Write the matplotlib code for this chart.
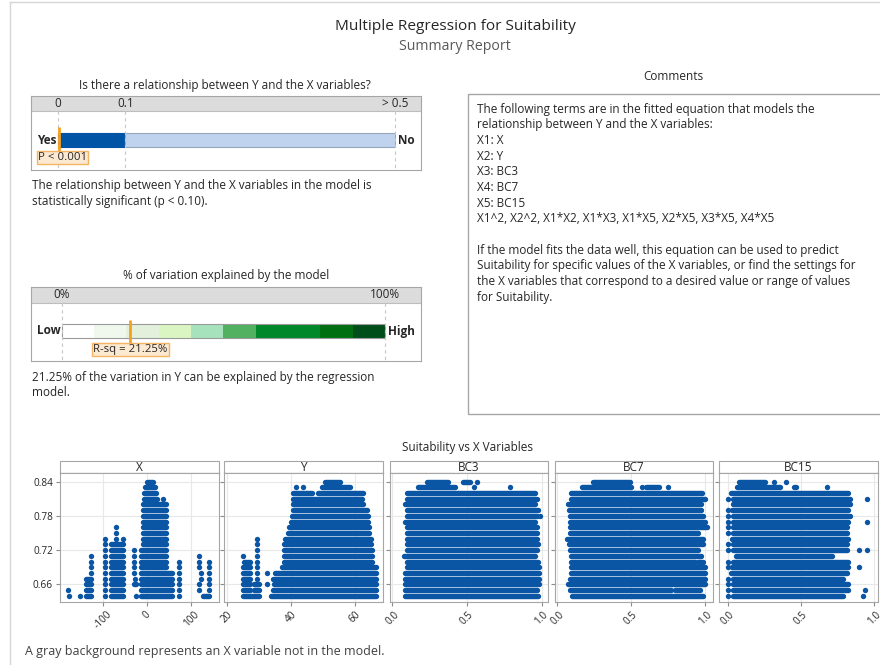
import numpy as np
import matplotlib.pyplot as plt
from matplotlib.patches import Rectangle

W, H = 880, 665
plt.rcParams['font.family'] = ['Open Sans', 'DejaVu Sans']

BLUE = '#0B55A5'
TXT = '#262626'
FRAME = '#A6A6A6'
FS = 8.5

# p-value scale
p_value = 0.001
p_ticks = [0, 0.1, 0.5]
p_tick_labels = ['0', '0.1', '> 0.5']
p_band_lo = [0, 0.1]
p_band_hi = [0.1, 0.5]
p_band_colors = ['#0054A6', '#BFD3EE']

# R-sq scale (percent)
r_sq = 21.25
r_ticks = [0, 100]
r_tick_labels = ['0%', '100%']
r_bounds = [0, 10, 20, 30, 40, 50, 60, 80, 90, 100]
r_colors = ['#FFFFFF', '#F0F8EE', '#E3F0DC', '#DAF5C2', '#A6E3BD',
            '#52B061', '#00882B', '#006F12', '#004F1A']

comment_lines = [
    "The following terms are in the fitted equation that models the",
    "relationship between Y and the X variables:",
    "X1: X",
    "X2: Y",
    "X3: BC3",
    "X4: BC7",
    "X5: BC15",
    "X1^2, X2^2, X1*X2, X1*X3, X1*X5, X2*X5, X3*X5, X4*X5",
    "",
    "If the model fits the data well, this equation can be used to predict",
    "Suitability for specific values of the X variables, or find the settings for",
    "the X variables that correspond to a desired value or range of values",
    "for Suitability.",
]

# Suitability levels (rows of the scatter panels, top to bottom)
levels = [0.84, 0.83, 0.82, 0.81, 0.80, 0.79, 0.78, 0.77, 0.76, 0.75, 0.74,
          0.73, 0.72, 0.71, 0.70, 0.69, 0.68, 0.67, 0.66, 0.65, 0.64]

# per level: runs of overlapping points (start, end) and single points
x_runs = [
    [(0, 13)], [(-4, 19)], [(-6, 21)], [(-6, 22)], [(-10, 43)], [(-10, 43)],
    [(-10, 43)], [(-10, 43)], [(-10, 43)], [(-10, 43)], [(-10, 43)],
    [(-82, -55), (-10, 43)], [(-82, -55), (-14, 43)], [(-82, -55), (-14, 43)],
    [(-82, -55), (-14, 43)], [(-82, -55), (-14, 43)], [(-82, -55), (-14, 57)],
    [(-139, -127), (-82, -55), (-14, 57)],
    [(-139, -127), (-82, -55), (-30, -25), (-14, 57)],
    [(-139, -127), (-82, -55), (-14, 57)],
    [(-139, -127), (-82, -55), (-14, 57), (127, 140)],
]
x_dots = [
    [], [], [], [37], [], [], [], [], [-71], [-71], [-96, -71, -55],
    [-96], [-96, -30], [-127, -96, -30, 119],
    [-127, -96, -30, 72, 119, 140], [-127, -96, -30, 72, 119, 140],
    [-127, -96, -30, 72, 122, 140], [-96, -28, 72, 122, 140],
    [-96, 72, 119, 140], [-181, -96, 72, 119, 140],
    [-179, -154, -96, -25, 72],
]

y_runs = [
    [(50.6, 55.3)], [(49.6, 58.4)], [(40.7, 46.5), (48.5, 62.6)],
    [(40.7, 62.1)], [(40.5, 62.4)], [(40.5, 63.6)], [(40.2, 64.0)],
    [(40.0, 64.2)], [(39.5, 64.5)], [(39.2, 64.5)], [(38.1, 64.9)],
    [(37.8, 64.9)], [(37.8, 65.2)], [(37.8, 65.2)],
    [(25.3, 27.2), (37.8, 65.2)], [(25.1, 27.2), (37.1, 66.6)],
    [(24.9, 27.2), (35.0, 66.6)], [(24.9, 27.2), (34.5, 66.6)],
    [(24.9, 27.2), (28.3, 30.1), (34.7, 66.6)],
    [(25.1, 27.2), (28.3, 30.1), (34.5, 66.6)],
    [(24.9, 30.1), (33.7, 66.6)],
]
y_dots = [
    [], [41.6, 43.9], [], [], [], [], [], [], [], [], [29.3],
    [29.5], [29.5], [25.1, 29.5], [29.5], [29.5], [29.5, 32.6], [29.5],
    [32.6], [], [],
]

bc3_runs = [
    [(0.23, 0.375), (0.475, 0.52)], [(0.17, 0.42)], [(0.096, 0.955)],
    [(0.096, 0.966)], [(0.085, 0.955)], [(0.096, 0.966)], [(0.096, 0.966)],
    [(0.085, 0.955)], [(0.096, 0.966)], [(0.096, 0.966)], [(0.096, 0.966)],
    [(0.096, 0.977)], [(0.096, 0.966)], [(0.078, 0.955)], [(0.1, 0.977)],
    [(0.1, 0.984)], [(0.085, 0.984)], [(0.085, 0.984)], [(0.085, 0.984)],
    [(0.085, 0.966)], [(0.085, 0.977)],
]
bc3_dots = [
    [0.565], [0.55, 0.79], [], [], [], [0.977], [0.99], [], [], [], [],
    [], [], [], [], [], [], [], [], [], [],
]

bc7_runs = [
    [(0.244, 0.49)], [(0.17, 0.50), (0.6, 0.69)], [(0.09, 0.98)],
    [(0.095, 1.0)], [(0.075, 0.975)], [(0.08, 0.975)], [(0.085, 0.985)],
    [(0.085, 1.0)], [(0.085, 1.01)], [(0.085, 0.955)], [(0.068, 0.985)],
    [(0.08, 0.985)], [(0.085, 0.955)], [(0.09, 0.975)],
    [(0.095, 0.93), (0.95, 0.985)], [(0.09, 1.0)], [(0.09, 1.0)],
    [(0.085, 1.0)], [(0.075, 1.0)], [(0.085, 0.77), (0.80, 0.965)],
    [(0.1, 0.985)],
]
bc7_dots = [
    [], [0.57, 0.75], [], [], [], [], [], [], [], [], [],
    [], [], [], [], [], [], [], [], [], [],
]

bc15_runs = [
    [(0.08, 0.255)], [(0.066, 0.357), (0.45, 0.47)], [(0.023, 0.825)],
    [(0.04, 0.835)], [(0.04, 0.835)], [(0.027, 0.825)], [(0.04, 0.835)],
    [(0.04, 0.825)], [(0.04, 0.815)], [(0.04, 0.815)], [(0.027, 0.825)],
    [(0.04, 0.815)], [(0.04, 0.815)], [(0.06, 0.71)], [(0.04, 0.825)],
    [(0.027, 0.825)], [(0.023, 0.815)], [(0.04, 0.79)], [(0.04, 0.825)],
    [(0.04, 0.825)], [(0.04, 0.79)],
]
bc15_dots = [
    [0.32, 0.40], [0.68], [], [0.0, 0.95], [], [0.0], [0.0], [0.0, 0.95],
    [0.0], [0.0], [], [0.0], [0.0, 0.90, 0.95], [], [0.0], [0.0, 0.90],
    [], [0.0], [0.0], [0.0, 0.94], [0.0, 0.925],
]


fig = plt.figure(figsize=(W / 100, H / 100), dpi=100)


def px_axes(x0, y0, x1, y1, **kw):
    return fig.add_axes([x0 / W, 1 - y1 / H, (x1 - x0) / W, (y1 - y0) / H], **kw)


# page layer in pixel coordinates for the text and frames
bg = px_axes(0, 0, W, H)
bg.set_xlim(0, W)
bg.set_ylim(H, 0)
bg.axis('off')
bg.plot([9.5, 9.5], [1.5, H], color='#D6D6D6', lw=1)
bg.plot([9.5, W], [1.5, 1.5], color='#D6D6D6', lw=1)

bg.text(455, 27, 'Multiple Regression for Suitability', ha='center', va='center',
        fontsize=11.1, color=TXT)
bg.text(455, 46, 'Summary Report', ha='center', va='center', fontsize=10.2, color='#595959')

bg.text(225, 86, 'Is there a relationship between Y and the X variables?',
        ha='center', va='center', fontsize=FS, color=TXT)
bg.text(32, 186, 'The relationship between Y and the X variables in the model is',
        va='center', fontsize=FS, color=TXT)
bg.text(32, 201, 'statistically significant (p < 0.10).', va='center', fontsize=FS, color=TXT)

bg.text(226, 275, '% of variation explained by the model', ha='center', va='center',
        fontsize=FS, color=TXT)
bg.text(32, 377, '21.25% of the variation in Y can be explained by the regression',
        va='center', fontsize=FS, color=TXT)
bg.text(32, 392, 'model.', va='center', fontsize=FS, color=TXT)

bg.text(673, 76, 'Comments', ha='center', va='center', fontsize=FS, color=TXT)
bg.add_patch(Rectangle((467.5, 93.5), 440, 320, fill=False, ec=FRAME, lw=1))
for i, line in enumerate(comment_lines):
    bg.text(477, 109.3 + i * 15.65, line, va='center', fontsize=FS, color=TXT)

bg.text(467, 448, 'Suitability vs X Variables', ha='center', va='center',
        fontsize=FS, color=TXT)
bg.text(25, 652, 'A gray background represents an X variable not in the model.',
        va='center', fontsize=9.0, color='#404040')

# p-value bar
ax = px_axes(31, 96, 421, 170)
ppx = (395 - 58) / 0.5
ax.set_xlim((31 - 58) / ppx, (421 - 58) / ppx)
ax.set_ylim(170, 96)
ax.axhspan(96, 111, color='#DCDCDC', lw=0)
ax.axhline(111, color='#BDBDBD', lw=0.8)
for t, lab in zip(p_ticks, p_tick_labels):
    ax.text(t, 103.5, lab, ha='center', va='center', fontsize=FS, color=TXT)
ax.vlines(p_ticks, 111, 170, colors='#C8C8C8', linestyles=(0, (3, 3)), lw=0.8)
ax.barh(140, np.subtract(p_band_hi, p_band_lo), left=p_band_lo, height=14,
        color=p_band_colors, edgecolor=['#0054A6', '#98A6BA'], lw=0.8)
ax.vlines(p_value, 127, 152, colors='#F5A11C', lw=2)
ax.text(p_value + 0.006, 157.5, 'P < 0.001', ha='center', va='center', fontsize=8.2,
        color=TXT, bbox=dict(boxstyle='square,pad=0.1', fc='#FCE9D2', ec='#F5B461', lw=1))
ax.text(-0.0015, 140, 'Yes', ha='right', va='center', fontsize=FS, weight='bold', color=TXT)
ax.text(0.504, 140, 'No', ha='left', va='center', fontsize=FS, weight='bold', color=TXT)
ax.set_xticks([])
ax.set_yticks([])
for s in ax.spines.values():
    s.set_color(FRAME)

# R-sq bar
ax = px_axes(31, 287, 421, 361)
rpx = (385 - 61.5) / 100
ax.set_xlim((31 - 61.5) / rpx, (421 - 61.5) / rpx)
ax.set_ylim(361, 287)
ax.axhspan(287, 303, color='#DCDCDC', lw=0)
ax.axhline(303, color='#BDBDBD', lw=0.8)
for t, lab in zip(r_ticks, r_tick_labels):
    ax.text(t, 295, lab, ha='center', va='center', fontsize=FS, color=TXT)
ax.vlines(r_ticks, 303, 361, colors='#C8C8C8', linestyles=(0, (3, 3)), lw=0.8)
ax.barh(331, np.diff(r_bounds), left=r_bounds[:-1], height=14, color=r_colors, lw=0)
ax.barh(331, r_bounds[-1] - r_bounds[0], left=r_bounds[0], height=14,
        fill=False, edgecolor='#9A9A9A', lw=0.8)
ax.vlines(r_sq, 320, 343, colors='#F5A11C', lw=2)
ax.text(r_sq, 349.5, f'R-sq = {r_sq:.2f}%', ha='center', va='center', fontsize=8.2,
        color=TXT, bbox=dict(boxstyle='square,pad=0.1', fc='#FCE9D2', ec='#F5B461', lw=1))
ax.text(-0.3, 331, 'Low', ha='right', va='center', fontsize=FS, weight='bold', color=TXT)
ax.text(101, 331, 'High', ha='left', va='center', fontsize=FS, weight='bold', color=TXT)
ax.set_xticks([])
ax.set_yticks([])
for s in ax.spines.values():
    s.set_color(FRAME)

# scatter panels
panels = [
    ('X', x_runs, x_dots, (-198.7, 163.9), [-100, 0, 100], ['-100', '0', '100'], 60, 219),
    ('Y', y_runs, y_dots, (19.06, 68.75), [20, 40, 60], ['20', '40', '60'], 224, 383),
    ('BC3', bc3_runs, bc3_dots, (-0.0154, 1.042), [0, 0.5, 1], ['0.0', '0.5', '1.0'], 390, 548),
    ('BC7', bc7_runs, bc7_dots, (-0.0156, 1.054), [0, 0.5, 1], ['0.0', '0.5', '1.0'], 555, 713),
    ('BC15', bc15_runs, bc15_dots, (-0.059, 1.027), [0, 0.5, 1], ['0.0', '0.5', '1.0'], 719, 878),
]
y_ticks = [0.66, 0.72, 0.78, 0.84]

for k, (name, runs, dots, xlim, ticks, labels, x0, x1) in enumerate(panels):
    ax = px_axes(x0, 473, x1, 602)
    ax.set_xlim(*xlim)
    ax.set_ylim(0.6294, 0.8549)
    ax.grid(True, color='#E8E8E8', lw=0.8)
    ax.set_axisbelow(True)

    ys, xa, xb = [], [], []
    dx, dy = [], []
    for lev, rr, dd in zip(levels, runs, dots):
        for a, b in rr:
            ys.append(lev)
            xa.append(a)
            xb.append(b)
        dx += dd
        dy += [lev] * len(dd)
    ax.hlines(ys, xa, xb, colors=BLUE, lw=3.9, capstyle='round')
    ax.scatter(dx, dy, s=15, color=BLUE, lw=0)

    ax.set_xticks(ticks)
    ax.set_xticklabels(labels, rotation=45, fontsize=7.2, color=TXT)
    ax.set_yticks(y_ticks)
    if k == 0:
        ax.set_yticklabels([f'{v:.2f}' for v in y_ticks], fontsize=7.2, color=TXT)
    else:
        ax.tick_params(axis='y', length=0, labelleft=False)
    ax.tick_params(color='#8C8C8C', length=3, width=0.8, pad=2)
    for s in ax.spines.values():
        s.set_color(FRAME)

    bg.add_patch(Rectangle((x0, 461), x1 - x0, 12, fc='white', ec=FRAME, lw=0.8))
    bg.plot([x0, x1], [473, 473], color='#808080', lw=0.8)
    bg.text((x0 + x1) / 2, 467.5, name, ha='center', va='center', fontsize=8.5, color=TXT)

fig.savefig('out.png', dpi=100)
